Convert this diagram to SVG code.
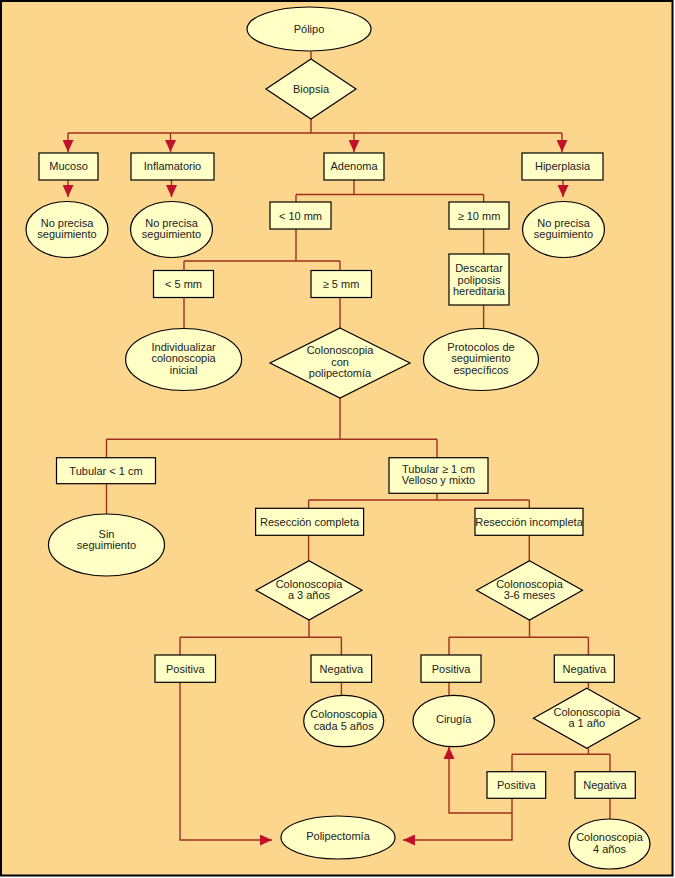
<svg xmlns="http://www.w3.org/2000/svg" width="675" height="878" viewBox="0 0 675 878">
<defs>
<marker id="arr" markerUnits="userSpaceOnUse" markerWidth="12" markerHeight="11" refX="12" refY="5.5" orient="auto">
<path d="M0,0 L12,5.5 L0,11 z" fill="#C0102A"/>
</marker>
<style>
.n{fill:#FFFFC6;stroke:#000;stroke-width:1.2}
.t{font-family:"Liberation Sans",Arial,sans-serif;font-size:11px;fill:#222;text-anchor:middle}
.c{fill:none;stroke:#A0301E;stroke-width:1.4}
.a{marker-end:url(#arr)}
</style>
</defs>
<rect x="0" y="0" width="675" height="878" fill="#fff"/>
<rect x="1" y="1" width="671.5" height="874.5" fill="#FDD68E" stroke="#000" stroke-width="2"/>
<g id="connectors">
<path class="c" d="M311,51.5V59M311,119V133M68,133H562"/>
<path class="c a" d="M68,133V152"/>
<path class="c a" d="M170.5,133V152"/>
<path class="c a" d="M354,133V152"/>
<path class="c a" d="M562,133V152"/>
<path class="c a" d="M68,180V197"/>
<path class="c a" d="M171.5,180V197"/>
<path class="c a" d="M563,180V197"/>
<path class="c" d="M354,180V194.5M296,194.5H483.6M296,194.5V202M483.6,194.5V202"/>
<path class="c" d="M296,229V261M184,261H340M184,261V270.5M340,261V270.5"/>
<path class="c" d="M483.6,229V254M483.6,305V328.5"/>
<path class="c" d="M184,297.5V328.5M340,297.5V328"/>
<path class="c" d="M340,398V439.3M106.5,439.3H437M106.5,439.3V457.7M437,439.3V457.7"/>
<path class="c" d="M106.5,483.7V514"/>
<path class="c" d="M437,493.3V500M308.6,500H529.3M308.6,500V508.3M529.3,500V508.3"/>
<path class="c" d="M308.6,535.3V560.7M529.3,535.3V560.7"/>
<path class="c" d="M309,620V637.3M180,637.3H341.4M180,637.3V655M341.4,637.3V655"/>
<path class="c" d="M529.5,620V637.3M449,637.3H588.4M449,637.3V655M588.4,637.3V655"/>
<path class="c a" d="M180,682.3V840H272"/>
<path class="c" d="M341.4,682.3V695.3M449,682.3V695M588.4,682.3V688.3"/>
<path class="c" d="M588.4,748.3V754.3M512,754.3H610M512,754.3V771.7M610,754.3V771.7"/>
<path class="c a" d="M512,798.3V840H403"/>
<path class="c a" d="M512,813H449V747"/>
<path class="c" d="M610,798.3V819"/>
</g>
<g id="polipo"><ellipse class="n" cx="309" cy="29" rx="62" ry="22"/><text class="t" x="309" y="33">Pólipo</text></g>
<g id="biopsia"><path class="n" d="M311,59L356,89L311,119L266,89z"/><text class="t" x="311" y="93">Biopsia</text></g>
<g id="mucoso"><rect class="n" x="39" y="153" width="59" height="27"/><text class="t" x="68.5" y="170">Mucoso</text></g>
<g id="inflamatorio"><rect class="n" x="131" y="153" width="83" height="27"/><text class="t" x="172.5" y="170">Inflamatorio</text></g>
<g id="adenoma"><rect class="n" x="324" y="153" width="60" height="27"/><text class="t" x="354" y="170">Adenoma</text></g>
<g id="hiperplasia"><rect class="n" x="522" y="153" width="81" height="27"/><text class="t" x="562.5" y="170">Hiperplasia</text></g>
<g id="np1"><ellipse class="n" cx="67" cy="229.5" rx="41" ry="28"/><text class="t" x="67" y="227">No precisa</text><text class="t" x="67" y="238">seguimiento</text></g>
<g id="np2"><ellipse class="n" cx="171.5" cy="229.5" rx="41" ry="28"/><text class="t" x="171.5" y="227">No precisa</text><text class="t" x="171.5" y="238">seguimiento</text></g>
<g id="np3"><ellipse class="n" cx="563.5" cy="229.5" rx="41" ry="28"/><text class="t" x="563.5" y="227">No precisa</text><text class="t" x="563.5" y="238">seguimiento</text></g>
<g id="lt10"><rect class="n" x="270" y="202" width="61" height="27"/><text class="t" x="300.5" y="219.5">&lt; 10 mm</text></g>
<g id="ge10"><rect class="n" x="449" y="202" width="60" height="27"/><text class="t" x="479" y="219.5">≥ 10 mm</text></g>
<g id="lt5"><rect class="n" x="153.5" y="270.5" width="60" height="27"/><text class="t" x="183.5" y="288">&lt; 5 mm</text></g>
<g id="ge5"><rect class="n" x="311" y="270.5" width="60.5" height="27"/><text class="t" x="341" y="288">≥ 5 mm</text></g>
<g id="descartar"><rect class="n" x="449" y="254" width="60" height="51"/><text class="t" x="479" y="272">Descartar</text><text class="t" x="479" y="283.5">poliposis</text><text class="t" x="479" y="295">hereditaria</text></g>
<g id="individualizar"><ellipse class="n" cx="183.6" cy="359.5" rx="58" ry="31"/><text class="t" x="183.6" y="350.5">Individualizar</text><text class="t" x="183.6" y="362">colonoscopia</text><text class="t" x="183.6" y="373.5">inicial</text></g>
<g id="colpolip"><path class="n" d="M340,328L410,363L340,398L270,363z"/><text class="t" x="340" y="354">Colonoscopia</text><text class="t" x="340" y="365.5">con</text><text class="t" x="340" y="377">polipectomía</text></g>
<g id="protocolos"><ellipse class="n" cx="481" cy="359.5" rx="57.5" ry="31"/><text class="t" x="481" y="350.5">Protocolos de</text><text class="t" x="481" y="362">seguimiento</text><text class="t" x="481" y="373.5">específicos</text></g>
<g id="tub1"><rect class="n" x="56.5" y="457.7" width="99" height="26"/><text class="t" x="106" y="474.7">Tubular &lt; 1 cm</text></g>
<g id="tub2"><rect class="n" x="389" y="457.7" width="99" height="35.6"/><text class="t" x="438.5" y="473">Tubular ≥ 1 cm</text><text class="t" x="438.5" y="484">Velloso y mixto</text></g>
<g id="sinseg"><ellipse class="n" cx="106.5" cy="545" rx="58" ry="31"/><text class="t" x="106.5" y="537.5">Sin</text><text class="t" x="106.5" y="548.5">seguimiento</text></g>
<g id="rescomp"><rect class="n" x="255.6" y="508.3" width="108" height="27"/><text class="t" x="309.6" y="525.8">Resección completa</text></g>
<g id="resinc"><rect class="n" x="475" y="508.3" width="108" height="27"/><text class="t" x="529" y="525.8">Resección incompleta</text></g>
<g id="col3a"><path class="n" d="M309,560.7L362,590.3L309,620L256,590.3z"/><text class="t" x="309" y="588">Colonoscopia</text><text class="t" x="309" y="599">a 3 años</text></g>
<g id="col36"><path class="n" d="M529.5,560.7L582.5,590.3L529.5,620L476.5,590.3z"/><text class="t" x="529.5" y="588">Colonoscopia</text><text class="t" x="529.5" y="599">3-6 meses</text></g>
<g id="pos1"><rect class="n" x="155" y="655" width="60.5" height="27.3"/><text class="t" x="185.3" y="672.6">Positiva</text></g>
<g id="neg1"><rect class="n" x="311" y="655" width="60.6" height="27.3"/><text class="t" x="341.3" y="672.6">Negativa</text></g>
<g id="pos2"><rect class="n" x="421" y="655" width="60" height="27.3"/><text class="t" x="451" y="672.6">Positiva</text></g>
<g id="neg2"><rect class="n" x="554.3" y="655" width="60" height="27.3"/><text class="t" x="584.3" y="672.6">Negativa</text></g>
<g id="col5a"><ellipse class="n" cx="343.7" cy="721" rx="40" ry="25.7"/><text class="t" x="343.7" y="718.3">Colonoscopia</text><text class="t" x="343.7" y="730">cada 5 años</text></g>
<g id="cirugia"><ellipse class="n" cx="453.7" cy="721" rx="40.7" ry="25.7"/><text class="t" x="453.7" y="723.3">Cirugía</text></g>
<g id="col1a"><path class="n" d="M586.8,688.3L640,718.3L586.8,748.3L533.5,718.3z"/><text class="t" x="586.8" y="716.3">Colonoscopia</text><text class="t" x="586.8" y="727.3">a 1 año</text></g>
<g id="pos3"><rect class="n" x="487" y="771.7" width="58.7" height="26.6"/><text class="t" x="516.3" y="789">Positiva</text></g>
<g id="neg3"><rect class="n" x="575" y="771.7" width="60.3" height="26.6"/><text class="t" x="605" y="789">Negativa</text></g>
<g id="polipectomia"><ellipse class="n" cx="338" cy="837.5" rx="57" ry="21.5"/><text class="t" x="338" y="840">Polipectomía</text></g>
<g id="col4a"><ellipse class="n" cx="609.5" cy="844" rx="40.5" ry="25"/><text class="t" x="609.5" y="841.3">Colonoscopia</text><text class="t" x="609.5" y="853.3">4 años</text></g>
</svg>
